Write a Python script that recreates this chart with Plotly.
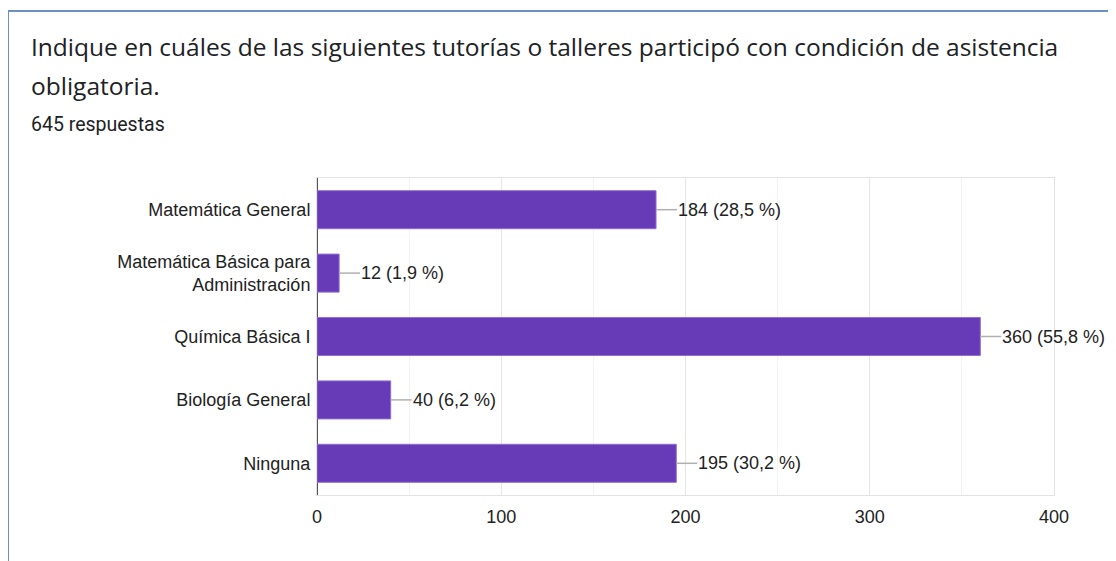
import plotly.graph_objects as go

categories = ["Matemática General", "Matemática Básica para<br>Administración",
              "Química Básica I", "Biología General", "Ninguna"]
values = [184, 12, 360, 40, 195]
percents = ["28,5", "1,9", "55,8", "6,2", "30,2"]
x_ticks = [0, 100, 200, 300, 400]
title_line1 = "Indique en cuáles de las siguientes tutorías o talleres participó con condición de asistencia"
title_line2 = "obligatoria."
subtitle = "645 respuestas"

OFF = 8  # page body margin
W, H = 1116 - OFF, 561 - OFF
L, T = 317 - OFF, 178 - OFF
pw, ph = 737, 317
R, B = W - L - pw, H - T - ph

def px(x):
    return (x - OFF - L) / pw

def py(y):
    return (T + ph - (y - OFF)) / ph

LABEL_FONT = dict(family="Liberation Sans, Arial", size=18, color="#222222")

fig = go.Figure()
fig.add_trace(go.Bar(
    x=values, y=categories, orientation="h",
    marker=dict(color="#673ab7", line=dict(color="#8e6fd0", width=1)),
    width=0.6, hoverinfo="skip",
))

shapes = []
annotations = []
x_per_px = 400 / pw
for c, v, p in zip(categories, values, percents):
    shapes.append(dict(type="line", xref="x", yref="y", x0=v, x1=v + 21 * x_per_px,
                       y0=c, y1=c, line=dict(color="#b0b0b0", width=1.5)))
    annotations.append(dict(x=v, y=c, xref="x", yref="y", text=f"{v} ({p} %)",
                            showarrow=False, xanchor="left", xshift=20,
                            font=LABEL_FONT))

# card border
shapes.append(dict(type="line", xref="paper", yref="paper", x0=px(8), x1=px(1130),
                   y0=py(11), y1=py(11), line=dict(color="#6b8fc7", width=2)))
shapes.append(dict(type="line", xref="paper", yref="paper", x0=px(8), x1=px(8),
                   y0=py(11), y1=py(580), line=dict(color="#6b8fc7", width=2)))

annotations += [
    dict(xref="paper", yref="paper", x=px(29), y=py(47), text=title_line1, showarrow=False,
         xanchor="left", yanchor="middle",
         font=dict(family="Open Sans", size=24.5, color="#202124")),
    dict(xref="paper", yref="paper", x=px(29), y=py(85), text=title_line2, showarrow=False,
         xanchor="left", yanchor="middle",
         font=dict(family="Open Sans", size=24.5, color="#202124")),
    dict(xref="paper", yref="paper", x=px(29), y=py(125), text=subtitle, showarrow=False,
         xanchor="left", yanchor="middle",
         font=dict(family="Roboto", size=19.5, color="#202124")),
]

fig.update_layout(
    width=W, height=H,
    margin=dict(l=L, r=R, t=T, b=B, autoexpand=False),
    paper_bgcolor="white", plot_bgcolor="white",
    showlegend=False, shapes=shapes, annotations=annotations,
    bargap=0.4,
    xaxis=dict(range=[0, 400], tickvals=x_ticks, showgrid=True, gridcolor="#e6e6e6",
               minor=dict(dtick=50, showgrid=True, gridcolor="#f2f2f2"),
               zeroline=True, zerolinecolor="#555555", zerolinewidth=2,
               showline=True, linecolor="#e3e3e3", linewidth=1, mirror=True,
               ticks="outside", ticklen=5, tickcolor="rgba(0,0,0,0)",
               tickfont=LABEL_FONT, fixedrange=True),
    yaxis=dict(autorange="reversed", showgrid=False,
               showline=True, linecolor="#e3e3e3", linewidth=1, mirror=True,
               ticks="outside", ticklen=2, tickcolor="rgba(0,0,0,0)",
               tickfont=LABEL_FONT, fixedrange=True),
)

fig.write_html("out.html")
